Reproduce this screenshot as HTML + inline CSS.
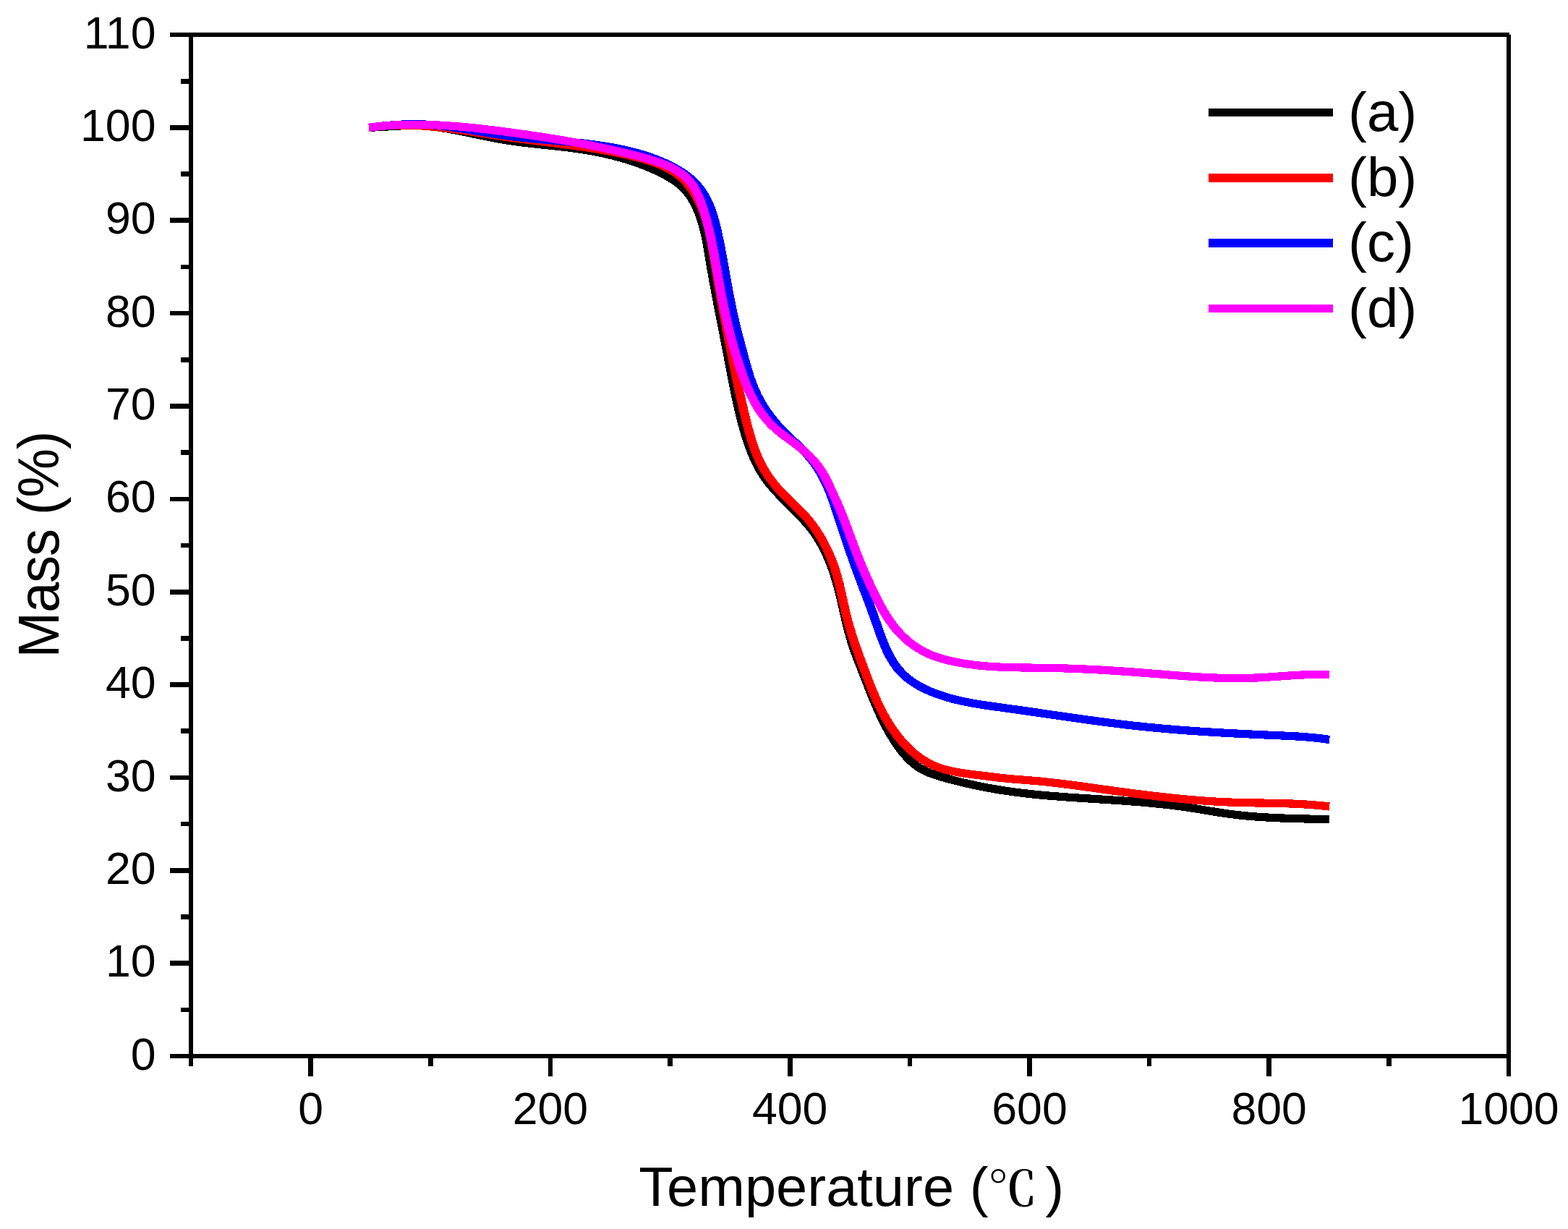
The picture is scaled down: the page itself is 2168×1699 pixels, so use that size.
<!DOCTYPE html>
<html lang="en"><head><meta charset="utf-8"><title>Mass (%) - Temperature (℃)</title>
<style>
html,body{margin:0;padding:0;background:#fff;}
body{width:2168px;height:1699px;overflow:hidden;}
svg{display:block;}
text{font-family:"Liberation Sans","Noto Serif CJK SC",sans-serif;fill:#000;}
.tk{font-size:62.6px;}
.ttl{font-size:76.2px;}
.lg{font-size:76.5px;}
.cjk{font-family:"Liberation Sans","Noto Serif CJK SC",serif;}
.ax{stroke:#000;stroke-width:6;fill:none;stroke-linecap:butt;}
.cv{fill:none;stroke-width:11.2;stroke-linejoin:round;stroke-linecap:butt;}
</style></head><body>
<svg width="2168" height="1699" viewBox="0 0 2168 1699">
<rect x="0" y="0" width="2168" height="1699" fill="#fff"/>
<g id="curves" transform="scale(1.12 1)" shape-rendering="crispEdges">
<path class="cv" stroke="#000000" d="M454.96 176.30h0.4C457.27 176.21 463.01 175.97 466.83 175.74C470.65 175.52 474.47 175.23 478.28 174.97C482.09 174.71 485.89 174.41 489.69 174.19C493.50 173.97 497.29 173.74 501.09 173.63C504.88 173.51 508.67 173.43 512.45 173.50C516.24 173.56 520.02 173.72 523.80 174.01C527.57 174.29 531.35 174.70 535.12 175.19C538.89 175.67 542.66 176.27 546.43 176.91C550.20 177.56 553.96 178.29 557.73 179.05C561.49 179.81 565.25 180.63 569.01 181.46C572.77 182.29 576.53 183.17 580.28 184.03C584.04 184.90 587.80 185.79 591.55 186.66C595.31 187.53 599.06 188.41 602.81 189.25C606.57 190.09 610.32 190.92 614.07 191.69C617.83 192.47 621.58 193.21 625.34 193.89C629.09 194.56 632.85 195.18 636.60 195.76C640.36 196.34 644.11 196.86 647.87 197.37C651.63 197.88 655.39 198.34 659.15 198.80C662.91 199.26 666.68 199.69 670.44 200.13C674.21 200.57 677.97 201.00 681.74 201.45C685.51 201.90 689.29 202.35 693.06 202.84C696.84 203.33 700.62 203.83 704.40 204.39C708.18 204.94 711.97 205.52 715.75 206.16C719.54 206.80 723.33 207.48 727.11 208.22C730.89 208.96 734.67 209.75 738.43 210.59C742.20 211.44 745.96 212.34 749.70 213.30C753.44 214.26 757.18 215.28 760.89 216.38C764.60 217.47 768.29 218.62 771.96 219.85C775.63 221.08 779.28 222.38 782.90 223.76C786.52 225.14 790.11 226.59 793.67 228.12C797.22 229.66 800.75 231.27 804.24 232.97C807.73 234.68 811.19 236.46 814.59 238.34C818.00 240.22 821.40 242.16 824.68 244.27C827.97 246.38 831.23 248.55 834.28 251.00C837.33 253.45 840.29 256.06 842.97 258.95C845.66 261.85 848.13 265.03 850.38 268.38C852.63 271.73 854.63 275.37 856.47 279.05C858.31 282.73 859.94 286.59 861.43 290.48C862.93 294.36 864.23 298.33 865.44 302.34C866.65 306.36 867.69 310.44 868.67 314.55C869.64 318.67 870.49 322.84 871.29 327.03C872.10 331.21 872.80 335.45 873.49 339.68C874.19 343.91 874.81 348.17 875.45 352.42C876.09 356.67 876.69 360.94 877.33 365.18C877.97 369.43 878.62 373.66 879.28 377.89C879.94 382.12 880.61 386.33 881.30 390.54C881.98 394.75 882.67 398.96 883.38 403.15C884.08 407.35 884.79 411.54 885.50 415.73C886.22 419.91 886.94 424.09 887.67 428.27C888.39 432.45 889.12 436.63 889.85 440.80C890.58 444.97 891.32 449.14 892.05 453.32C892.78 457.49 893.51 461.66 894.24 465.83C894.97 470.00 895.70 474.17 896.42 478.35C897.15 482.52 897.87 486.70 898.58 490.88C899.29 495.06 899.99 499.25 900.70 503.43C901.41 507.62 902.11 511.81 902.82 516.00C903.54 520.19 904.25 524.38 904.98 528.56C905.72 532.75 906.46 536.94 907.22 541.12C907.99 545.31 908.77 549.49 909.58 553.66C910.40 557.84 911.23 562.01 912.10 566.17C912.97 570.34 913.87 574.49 914.82 578.64C915.77 582.79 916.75 586.93 917.78 591.06C918.82 595.19 919.89 599.32 921.03 603.41C922.17 607.50 923.36 611.59 924.65 615.62C925.93 619.64 927.27 623.65 928.73 627.58C930.18 631.51 931.72 635.40 933.38 639.20C935.03 643.00 936.79 646.75 938.69 650.38C940.58 654.02 942.60 657.57 944.76 661.02C946.92 664.46 949.24 667.79 951.64 671.06C954.03 674.33 956.57 677.50 959.14 680.64C961.71 683.78 964.39 686.85 967.07 689.91C969.74 692.98 972.49 696.00 975.20 699.04C977.92 702.09 980.67 705.11 983.35 708.19C986.03 711.27 988.71 714.35 991.28 717.51C993.86 720.67 996.40 723.86 998.81 727.17C1001.21 730.47 1003.53 733.84 1005.71 737.32C1007.89 740.79 1009.94 744.38 1011.88 748.03C1013.82 751.68 1015.64 755.42 1017.37 759.22C1019.09 763.02 1020.70 766.89 1022.22 770.81C1023.75 774.73 1025.16 778.71 1026.50 782.71C1027.84 786.72 1029.08 790.78 1030.26 794.85C1031.43 798.92 1032.51 803.02 1033.54 807.13C1034.57 811.23 1035.52 815.36 1036.45 819.49C1037.37 823.62 1038.24 827.77 1039.10 831.91C1039.97 836.05 1040.79 840.20 1041.64 844.35C1042.49 848.50 1043.32 852.65 1044.19 856.78C1045.07 860.92 1045.95 865.06 1046.89 869.18C1047.84 873.30 1048.80 877.41 1049.86 881.51C1050.92 885.60 1052.04 889.68 1053.24 893.73C1054.45 897.79 1055.75 901.82 1057.08 905.84C1058.41 909.86 1059.82 913.86 1061.21 917.85C1062.60 921.84 1064.03 925.81 1065.42 929.78C1066.81 933.75 1068.18 937.70 1069.55 941.66C1070.93 945.61 1072.29 949.56 1073.68 953.51C1075.08 957.46 1076.47 961.41 1077.91 965.35C1079.36 969.29 1080.82 973.24 1082.34 977.15C1083.85 981.07 1085.40 984.98 1087.02 988.85C1088.64 992.72 1090.30 996.57 1092.04 1000.37C1093.79 1004.18 1095.58 1007.95 1097.47 1011.66C1099.36 1015.37 1101.32 1019.04 1103.38 1022.63C1105.44 1026.23 1107.58 1029.79 1109.84 1033.23C1112.10 1036.68 1114.44 1040.11 1116.93 1043.32C1119.42 1046.53 1122.02 1049.67 1124.79 1052.50C1127.56 1055.34 1130.46 1058.00 1133.54 1060.32C1136.63 1062.64 1139.91 1064.63 1143.29 1066.42C1146.66 1068.22 1150.23 1069.69 1153.81 1071.10C1157.39 1072.51 1161.09 1073.69 1164.77 1074.88C1168.44 1076.07 1172.16 1077.16 1175.86 1078.25C1179.56 1079.33 1183.27 1080.37 1186.99 1081.37C1190.70 1082.38 1194.42 1083.34 1198.15 1084.26C1201.87 1085.19 1205.60 1086.07 1209.34 1086.92C1213.07 1087.76 1216.81 1088.57 1220.56 1089.34C1224.30 1090.11 1228.05 1090.84 1231.80 1091.53C1235.56 1092.23 1239.32 1092.88 1243.08 1093.50C1246.85 1094.12 1250.61 1094.70 1254.39 1095.25C1258.16 1095.80 1261.94 1096.31 1265.72 1096.80C1269.50 1097.29 1273.28 1097.74 1277.07 1098.18C1280.85 1098.61 1284.64 1099.02 1288.43 1099.40C1292.23 1099.79 1296.02 1100.15 1299.82 1100.50C1303.61 1100.85 1307.41 1101.18 1311.21 1101.49C1315.01 1101.81 1318.81 1102.11 1322.61 1102.40C1326.41 1102.70 1330.22 1102.98 1334.02 1103.25C1337.82 1103.53 1341.62 1103.80 1345.43 1104.07C1349.23 1104.34 1353.03 1104.60 1356.83 1104.87C1360.63 1105.14 1364.43 1105.40 1368.23 1105.68C1372.03 1105.95 1375.83 1106.23 1379.62 1106.52C1383.42 1106.81 1387.21 1107.10 1391.00 1107.41C1394.79 1107.72 1398.58 1108.05 1402.37 1108.38C1406.16 1108.72 1409.94 1109.08 1413.73 1109.45C1417.51 1109.83 1421.29 1110.22 1425.07 1110.63C1428.85 1111.05 1432.63 1111.48 1436.41 1111.95C1440.19 1112.41 1443.97 1112.90 1447.75 1113.42C1451.52 1113.94 1455.30 1114.48 1459.08 1115.06C1462.85 1115.64 1466.63 1116.25 1470.40 1116.90C1474.18 1117.54 1477.95 1118.23 1481.73 1118.91C1485.50 1119.60 1489.28 1120.32 1493.06 1121.01C1496.83 1121.70 1500.61 1122.40 1504.38 1123.06C1508.16 1123.72 1511.94 1124.36 1515.72 1124.95C1519.49 1125.53 1523.27 1126.07 1527.05 1126.56C1530.83 1127.05 1534.62 1127.48 1538.40 1127.88C1542.18 1128.28 1545.97 1128.64 1549.75 1128.96C1553.54 1129.28 1557.33 1129.57 1561.11 1129.82C1564.90 1130.08 1568.70 1130.30 1572.49 1130.51C1576.28 1130.71 1580.08 1130.89 1583.88 1131.05C1587.68 1131.21 1591.48 1131.35 1595.28 1131.48C1599.09 1131.61 1602.89 1131.72 1606.70 1131.83C1610.51 1131.95 1614.32 1132.05 1618.14 1132.15C1621.95 1132.25 1625.77 1132.35 1629.60 1132.46C1633.42 1132.57 1639.16 1132.75 1641.07 1132.80h0.4"/>
<path class="cv" stroke="#ff0000" d="M454.96 176.31h0.4C457.26 176.04 462.95 175.12 466.75 174.67C470.54 174.22 474.34 173.87 478.13 173.61C481.92 173.34 485.71 173.17 489.50 173.07C493.29 172.97 497.08 172.96 500.87 173.02C504.66 173.07 508.44 173.20 512.23 173.39C516.01 173.58 519.80 173.84 523.58 174.14C527.36 174.45 531.14 174.81 534.92 175.22C538.70 175.62 542.48 176.08 546.25 176.57C550.03 177.06 553.81 177.60 557.58 178.15C561.35 178.71 565.13 179.30 568.90 179.90C572.67 180.51 576.44 181.14 580.21 181.78C583.98 182.41 587.74 183.07 591.51 183.72C595.27 184.37 599.04 185.04 602.80 185.69C606.56 186.34 610.33 186.99 614.09 187.63C617.85 188.26 621.60 188.88 625.36 189.48C629.12 190.08 632.87 190.65 636.63 191.22C640.38 191.78 644.14 192.32 647.89 192.85C651.64 193.39 655.39 193.91 659.14 194.43C662.89 194.94 666.64 195.45 670.39 195.96C674.14 196.47 677.89 196.98 681.64 197.50C685.38 198.01 689.13 198.53 692.88 199.06C696.63 199.59 700.37 200.13 704.12 200.69C707.87 201.25 711.61 201.81 715.36 202.41C719.11 203.00 722.86 203.61 726.60 204.26C730.35 204.90 734.10 205.56 737.85 206.26C741.60 206.96 745.35 207.69 749.10 208.46C752.85 209.23 756.60 210.03 760.35 210.88C764.10 211.73 767.86 212.62 771.61 213.56C775.36 214.50 779.12 215.48 782.88 216.53C786.63 217.57 790.41 218.64 794.14 219.83C797.87 221.01 801.61 222.24 805.25 223.63C808.90 225.02 812.52 226.50 816.01 228.17C819.50 229.85 822.93 231.65 826.19 233.69C829.45 235.73 832.62 237.94 835.59 240.42C838.56 242.89 841.37 245.63 844.01 248.55C846.65 251.48 849.11 254.68 851.41 257.99C853.71 261.31 855.85 264.85 857.83 268.47C859.81 272.08 861.63 275.87 863.31 279.70C864.98 283.53 866.49 287.48 867.87 291.44C869.26 295.41 870.48 299.43 871.61 303.49C872.75 307.55 873.74 311.65 874.67 315.78C875.60 319.90 876.42 324.07 877.19 328.25C877.97 332.42 878.66 336.63 879.34 340.84C880.01 345.05 880.62 349.28 881.25 353.51C881.87 357.73 882.46 361.97 883.08 366.19C883.70 370.41 884.32 374.63 884.94 378.84C885.57 383.06 886.21 387.26 886.85 391.47C887.49 395.67 888.14 399.87 888.79 404.07C889.45 408.26 890.11 412.45 890.78 416.64C891.45 420.83 892.13 425.02 892.81 429.20C893.49 433.38 894.18 437.56 894.87 441.73C895.57 445.91 896.27 450.08 896.98 454.25C897.68 458.42 898.40 462.59 899.12 466.76C899.84 470.92 900.56 475.09 901.30 479.25C902.03 483.41 902.77 487.57 903.51 491.73C904.25 495.89 905.00 500.05 905.76 504.21C906.52 508.37 907.28 512.52 908.06 516.68C908.83 520.84 909.62 524.99 910.41 529.15C911.21 533.30 912.01 537.46 912.83 541.62C913.65 545.77 914.48 549.93 915.33 554.09C916.18 558.24 917.04 562.40 917.91 566.56C918.79 570.72 919.68 574.88 920.60 579.04C921.52 583.19 922.44 587.36 923.43 591.49C924.42 595.63 925.43 599.76 926.53 603.85C927.62 607.93 928.76 612.00 930.01 616.01C931.26 620.02 932.57 624.00 934.01 627.90C935.45 631.81 936.97 635.67 938.64 639.44C940.32 643.21 942.11 646.92 944.04 650.53C945.98 654.14 948.06 657.67 950.25 661.11C952.45 664.54 954.78 667.89 957.19 671.14C959.61 674.39 962.15 677.53 964.74 680.61C967.33 683.68 970.04 686.63 972.73 689.60C975.42 692.56 978.18 695.44 980.89 698.40C983.59 701.35 986.32 704.28 988.94 707.32C991.56 710.37 994.16 713.46 996.62 716.68C999.08 719.91 1001.45 723.26 1003.71 726.69C1005.97 730.13 1008.12 733.68 1010.18 737.31C1012.23 740.93 1014.18 744.65 1016.03 748.42C1017.87 752.19 1019.62 756.04 1021.26 759.93C1022.90 763.82 1024.44 767.78 1025.88 771.76C1027.31 775.73 1028.65 779.76 1029.88 783.79C1031.11 787.82 1032.23 791.88 1033.28 795.93C1034.32 799.99 1035.26 804.06 1036.17 808.14C1037.08 812.21 1037.90 816.30 1038.74 820.39C1039.57 824.47 1040.35 828.57 1041.18 832.66C1042.00 836.76 1042.80 840.86 1043.67 844.96C1044.55 849.06 1045.44 853.16 1046.42 857.26C1047.39 861.35 1048.43 865.45 1049.52 869.54C1050.61 873.64 1051.77 877.73 1052.95 881.81C1054.14 885.89 1055.37 889.96 1056.63 894.03C1057.89 898.10 1059.19 902.15 1060.50 906.20C1061.81 910.25 1063.15 914.28 1064.49 918.30C1065.83 922.33 1067.18 926.34 1068.54 930.33C1069.89 934.32 1071.23 938.30 1072.61 942.26C1073.98 946.21 1075.36 950.15 1076.79 954.06C1078.22 957.97 1079.67 961.87 1081.19 965.72C1082.72 969.58 1084.28 973.41 1085.93 977.21C1087.59 981.00 1089.30 984.77 1091.12 988.49C1092.94 992.21 1094.85 995.91 1096.86 999.54C1098.88 1003.17 1101.00 1006.78 1103.22 1010.28C1105.45 1013.78 1107.77 1017.23 1110.20 1020.55C1112.63 1023.86 1115.16 1027.10 1117.79 1030.17C1120.42 1033.25 1123.16 1036.22 1125.99 1039.00C1128.82 1041.78 1131.75 1044.43 1134.78 1046.86C1137.82 1049.29 1140.95 1051.55 1144.18 1053.58C1147.41 1055.61 1150.74 1057.42 1154.16 1059.01C1157.57 1060.60 1161.10 1061.93 1164.68 1063.14C1168.26 1064.34 1171.93 1065.32 1175.64 1066.21C1179.34 1067.11 1183.12 1067.83 1186.91 1068.51C1190.70 1069.19 1194.55 1069.75 1198.39 1070.31C1202.23 1070.87 1206.10 1071.35 1209.95 1071.87C1213.80 1072.40 1217.66 1072.93 1221.49 1073.46C1225.33 1073.98 1229.15 1074.54 1232.97 1075.03C1236.79 1075.52 1240.60 1075.99 1244.40 1076.40C1248.20 1076.81 1251.99 1077.15 1255.77 1077.49C1259.56 1077.83 1263.33 1078.13 1267.11 1078.46C1270.88 1078.80 1274.64 1079.13 1278.41 1079.51C1282.17 1079.88 1285.92 1080.30 1289.68 1080.73C1293.43 1081.16 1297.18 1081.63 1300.93 1082.11C1304.68 1082.59 1308.42 1083.10 1312.16 1083.62C1315.91 1084.15 1319.65 1084.69 1323.39 1085.24C1327.14 1085.79 1330.88 1086.36 1334.62 1086.93C1338.36 1087.50 1342.11 1088.08 1345.85 1088.67C1349.60 1089.25 1353.35 1089.84 1357.10 1090.42C1360.85 1091.00 1364.60 1091.59 1368.36 1092.17C1372.12 1092.75 1375.88 1093.32 1379.64 1093.89C1383.40 1094.46 1387.17 1095.03 1390.94 1095.59C1394.71 1096.15 1398.48 1096.70 1402.25 1097.24C1406.02 1097.78 1409.80 1098.32 1413.57 1098.84C1417.35 1099.36 1421.13 1099.88 1424.91 1100.37C1428.69 1100.87 1432.48 1101.36 1436.26 1101.83C1440.05 1102.30 1443.83 1102.76 1447.62 1103.20C1451.41 1103.64 1455.20 1104.06 1458.99 1104.47C1462.78 1104.87 1466.57 1105.26 1470.36 1105.63C1474.16 1105.99 1477.95 1106.34 1481.74 1106.66C1485.54 1106.99 1489.33 1107.29 1493.13 1107.57C1496.93 1107.84 1500.72 1108.10 1504.52 1108.32C1508.32 1108.55 1512.12 1108.75 1515.92 1108.93C1519.71 1109.10 1523.51 1109.24 1527.31 1109.37C1531.11 1109.50 1534.91 1109.59 1538.70 1109.68C1542.50 1109.78 1546.30 1109.85 1550.10 1109.92C1553.90 1109.99 1557.69 1110.06 1561.49 1110.13C1565.29 1110.20 1569.08 1110.27 1572.88 1110.36C1576.67 1110.45 1580.47 1110.54 1584.26 1110.66C1588.06 1110.78 1591.85 1110.92 1595.64 1111.09C1599.43 1111.26 1603.22 1111.45 1607.01 1111.68C1610.80 1111.92 1614.59 1112.18 1618.37 1112.50C1622.16 1112.82 1625.94 1113.17 1629.73 1113.59C1633.51 1114.01 1639.18 1114.76 1641.07 1115.00h0.4"/>
<path class="cv" stroke="#0000ff" d="M454.96 176.30h0.4C457.19 176.06 462.71 175.29 466.37 174.83C470.03 174.38 473.69 173.95 477.33 173.58C480.97 173.20 484.61 172.86 488.23 172.59C491.86 172.32 495.47 172.09 499.08 171.94C502.69 171.79 506.29 171.69 509.89 171.68C513.48 171.67 517.07 171.73 520.65 171.87C524.24 172.01 527.82 172.25 531.39 172.53C534.97 172.82 538.54 173.19 542.11 173.60C545.68 174.01 549.25 174.49 552.82 175.00C556.39 175.51 559.95 176.08 563.52 176.67C567.09 177.25 570.66 177.88 574.23 178.51C577.80 179.15 581.37 179.82 584.94 180.48C588.51 181.14 592.09 181.82 595.67 182.48C599.25 183.14 602.84 183.81 606.43 184.45C610.02 185.09 613.62 185.72 617.22 186.31C620.83 186.90 624.44 187.47 628.06 188.00C631.68 188.52 635.30 189.01 638.93 189.47C642.57 189.94 646.20 190.36 649.84 190.78C653.49 191.19 657.13 191.58 660.78 191.96C664.42 192.34 668.08 192.70 671.72 193.06C675.37 193.42 679.03 193.76 682.67 194.12C686.32 194.48 689.97 194.83 693.62 195.19C697.26 195.56 700.90 195.93 704.54 196.32C708.18 196.71 711.81 197.11 715.44 197.55C719.06 197.98 722.69 198.43 726.30 198.92C729.91 199.41 733.51 199.92 737.11 200.48C740.70 201.04 744.29 201.63 747.86 202.28C751.43 202.92 755.00 203.61 758.55 204.35C762.09 205.10 765.63 205.89 769.15 206.75C772.67 207.62 776.18 208.53 779.67 209.53C783.16 210.52 786.63 211.57 790.09 212.71C793.54 213.85 796.98 215.06 800.39 216.36C803.81 217.66 807.21 219.04 810.58 220.52C813.96 221.99 817.32 223.55 820.64 225.22C823.96 226.89 827.28 228.65 830.50 230.55C833.73 232.46 836.92 234.46 839.99 236.65C843.05 238.83 846.05 241.15 848.89 243.66C851.72 246.17 854.46 248.86 857.00 251.72C859.54 254.58 861.94 257.62 864.12 260.80C866.29 263.99 868.26 267.35 870.06 270.81C871.86 274.28 873.43 277.90 874.89 281.60C876.35 285.29 877.63 289.12 878.83 292.98C880.03 296.85 881.08 300.81 882.07 304.79C883.07 308.77 883.95 312.81 884.80 316.84C885.65 320.87 886.42 324.93 887.18 328.96C887.94 332.98 888.66 337.00 889.36 341.01C890.07 345.01 890.74 349.00 891.40 352.99C892.07 356.97 892.71 360.94 893.35 364.91C893.99 368.88 894.62 372.84 895.25 376.80C895.88 380.76 896.50 384.72 897.13 388.67C897.77 392.63 898.40 396.58 899.06 400.54C899.71 404.49 900.37 408.45 901.06 412.41C901.75 416.38 902.46 420.34 903.19 424.32C903.93 428.29 904.69 432.27 905.49 436.26C906.30 440.25 907.13 444.26 908.00 448.26C908.86 452.26 909.76 456.28 910.67 460.28C911.58 464.28 912.51 468.29 913.45 472.29C914.39 476.28 915.35 480.27 916.30 484.23C917.26 488.20 918.21 492.16 919.17 496.09C920.13 500.02 921.07 503.93 922.07 507.80C923.08 511.68 924.09 515.54 925.20 519.35C926.31 523.16 927.46 526.94 928.74 530.67C930.02 534.41 931.38 538.10 932.88 541.74C934.37 545.39 935.99 548.98 937.72 552.52C939.45 556.06 941.29 559.54 943.24 562.96C945.18 566.38 947.23 569.74 949.38 573.03C951.52 576.31 953.77 579.54 956.10 582.68C958.43 585.82 960.86 588.89 963.35 591.87C965.84 594.86 968.45 597.74 971.06 600.61C973.68 603.47 976.38 606.24 979.03 609.05C981.68 611.86 984.37 614.63 986.97 617.47C989.57 620.32 992.17 623.16 994.62 626.12C997.08 629.09 999.47 632.11 1001.72 635.25C1003.96 638.40 1006.10 641.65 1008.11 644.98C1010.12 648.31 1012.02 651.74 1013.81 655.23C1015.59 658.73 1017.25 662.31 1018.82 665.95C1020.40 669.58 1021.84 673.30 1023.24 677.04C1024.64 680.79 1025.93 684.60 1027.20 688.42C1028.46 692.25 1029.65 696.12 1030.83 699.99C1032.02 703.86 1033.14 707.77 1034.29 711.66C1035.43 715.55 1036.55 719.45 1037.69 723.34C1038.83 727.22 1039.97 731.11 1041.11 734.98C1042.25 738.85 1043.40 742.72 1044.55 746.58C1045.71 750.44 1046.87 754.29 1048.04 758.13C1049.21 761.97 1050.39 765.80 1051.58 769.61C1052.77 773.43 1053.98 777.24 1055.19 781.03C1056.41 784.82 1057.64 788.59 1058.89 792.36C1060.13 796.12 1061.40 799.87 1062.66 803.62C1063.93 807.37 1065.21 811.11 1066.49 814.86C1067.77 818.61 1069.05 822.36 1070.33 826.13C1071.60 829.90 1072.88 833.68 1074.15 837.48C1075.41 841.29 1076.68 845.10 1077.92 848.96C1079.16 852.82 1080.38 856.71 1081.60 860.61C1082.83 864.52 1084.03 868.47 1085.28 872.38C1086.53 876.29 1087.78 880.22 1089.12 884.07C1090.45 887.92 1091.82 891.76 1093.30 895.49C1094.79 899.22 1096.33 902.90 1098.03 906.45C1099.72 909.99 1101.50 913.46 1103.47 916.75C1105.43 920.04 1107.52 923.22 1109.81 926.20C1112.10 929.18 1114.58 931.99 1117.22 934.63C1119.86 937.27 1122.70 939.71 1125.64 942.01C1128.59 944.31 1131.70 946.44 1134.89 948.43C1138.07 950.43 1141.39 952.26 1144.76 953.98C1148.12 955.69 1151.59 957.26 1155.07 958.73C1158.54 960.19 1162.09 961.52 1165.62 962.76C1169.15 964.00 1172.70 965.12 1176.24 966.17C1179.79 967.22 1183.33 968.16 1186.88 969.04C1190.43 969.93 1193.98 970.72 1197.54 971.48C1201.09 972.23 1204.65 972.91 1208.21 973.57C1211.77 974.23 1215.33 974.82 1218.89 975.41C1222.45 976.00 1226.02 976.55 1229.59 977.10C1233.16 977.66 1236.73 978.19 1240.30 978.74C1243.87 979.29 1247.44 979.84 1251.02 980.40C1254.60 980.96 1258.18 981.52 1261.76 982.09C1265.34 982.66 1268.92 983.24 1272.50 983.82C1276.09 984.40 1279.67 984.98 1283.26 985.56C1286.85 986.15 1290.44 986.73 1294.03 987.32C1297.62 987.90 1301.21 988.49 1304.81 989.07C1308.40 989.66 1312.00 990.24 1315.60 990.82C1319.19 991.40 1322.79 991.98 1326.39 992.55C1329.99 993.13 1333.60 993.70 1337.20 994.26C1340.80 994.82 1344.41 995.38 1348.01 995.93C1351.62 996.48 1355.22 997.03 1358.83 997.56C1362.44 998.10 1366.05 998.63 1369.66 999.14C1373.27 999.66 1376.88 1000.17 1380.49 1000.66C1384.11 1001.16 1387.72 1001.64 1391.33 1002.11C1394.95 1002.58 1398.56 1003.04 1402.18 1003.48C1405.80 1003.92 1409.41 1004.35 1413.03 1004.77C1416.65 1005.18 1420.27 1005.58 1423.88 1005.97C1427.50 1006.36 1431.12 1006.73 1434.74 1007.09C1438.36 1007.45 1441.98 1007.80 1445.60 1008.14C1449.23 1008.48 1452.85 1008.80 1456.47 1009.12C1460.09 1009.43 1463.71 1009.74 1467.33 1010.03C1470.96 1010.33 1474.58 1010.61 1478.20 1010.88C1481.83 1011.16 1485.45 1011.42 1489.07 1011.68C1492.70 1011.94 1496.32 1012.19 1499.94 1012.43C1503.56 1012.67 1507.19 1012.90 1510.81 1013.13C1514.43 1013.35 1518.06 1013.57 1521.68 1013.79C1525.30 1014.00 1528.93 1014.21 1532.55 1014.41C1536.17 1014.61 1539.79 1014.80 1543.42 1015.00C1547.04 1015.19 1550.66 1015.37 1554.28 1015.56C1557.90 1015.74 1561.52 1015.92 1565.14 1016.10C1568.76 1016.27 1572.38 1016.44 1576.00 1016.62C1579.62 1016.80 1583.24 1016.96 1586.86 1017.15C1590.48 1017.34 1594.09 1017.53 1597.71 1017.77C1601.33 1018.00 1604.94 1018.24 1608.56 1018.53C1612.17 1018.83 1615.79 1019.15 1619.40 1019.53C1623.01 1019.91 1626.63 1020.34 1630.24 1020.83C1633.85 1021.33 1639.27 1022.23 1641.07 1022.51h0.4"/>
<path class="cv" stroke="#ff00ff" d="M454.96 176.31h0.4C457.12 176.07 462.40 175.31 465.93 174.89C469.45 174.47 472.98 174.11 476.51 173.79C480.03 173.47 483.56 173.21 487.08 172.99C490.61 172.78 494.13 172.61 497.66 172.48C501.18 172.36 504.71 172.28 508.23 172.24C511.76 172.20 515.28 172.21 518.81 172.25C522.33 172.29 525.85 172.38 529.38 172.50C532.90 172.61 536.42 172.77 539.95 172.95C543.47 173.14 546.99 173.36 550.51 173.60C554.03 173.85 557.55 174.13 561.07 174.44C564.59 174.74 568.11 175.07 571.62 175.43C575.14 175.78 578.66 176.16 582.17 176.56C585.69 176.96 589.20 177.38 592.71 177.82C596.23 178.25 599.74 178.71 603.25 179.18C606.76 179.65 610.26 180.13 613.77 180.63C617.28 181.12 620.78 181.63 624.29 182.15C627.79 182.66 631.29 183.19 634.79 183.72C638.29 184.26 641.79 184.80 645.29 185.35C648.78 185.90 652.28 186.47 655.77 187.04C659.26 187.61 662.75 188.20 666.24 188.79C669.73 189.39 673.22 190.00 676.70 190.62C680.19 191.24 683.67 191.87 687.15 192.52C690.63 193.16 694.10 193.82 697.58 194.50C701.05 195.17 704.53 195.86 708.00 196.56C711.47 197.27 714.94 197.98 718.40 198.72C721.87 199.45 725.33 200.20 728.79 200.97C732.25 201.74 735.71 202.52 739.16 203.33C742.62 204.13 746.07 204.95 749.52 205.79C752.97 206.62 756.41 207.48 759.86 208.36C763.30 209.23 766.74 210.13 770.18 211.04C773.61 211.96 777.05 212.89 780.48 213.85C783.91 214.81 787.34 215.77 790.76 216.79C794.18 217.81 797.60 218.84 801.00 219.97C804.40 221.10 807.79 222.27 811.14 223.58C814.50 224.88 817.86 226.26 821.14 227.82C824.43 229.37 827.72 231.02 830.85 232.89C833.98 234.76 837.07 236.76 839.92 239.02C842.77 241.27 845.50 243.71 847.95 246.42C850.40 249.13 852.61 252.12 854.61 255.29C856.60 258.45 858.32 261.91 859.92 265.44C861.52 268.96 862.89 272.70 864.20 276.43C865.51 280.15 866.66 284.00 867.79 287.80C868.91 291.60 869.94 295.41 870.93 299.22C871.92 303.02 872.84 306.83 873.72 310.63C874.59 314.44 875.41 318.25 876.20 322.06C876.99 325.87 877.73 329.68 878.44 333.50C879.16 337.31 879.83 341.13 880.49 344.96C881.15 348.78 881.78 352.61 882.40 356.45C883.03 360.29 883.63 364.13 884.23 367.98C884.84 371.83 885.43 375.69 886.03 379.56C886.64 383.42 887.24 387.30 887.86 391.18C888.49 395.07 889.12 398.97 889.78 402.87C890.43 406.78 891.11 410.70 891.81 414.62C892.51 418.54 893.23 422.47 893.98 426.40C894.72 430.33 895.49 434.26 896.28 438.19C897.07 442.11 897.89 446.04 898.73 449.95C899.58 453.87 900.44 457.78 901.34 461.68C902.23 465.57 903.15 469.46 904.10 473.33C905.05 477.19 906.02 481.05 907.03 484.87C908.03 488.70 909.06 492.52 910.13 496.30C911.19 500.08 912.28 503.84 913.41 507.57C914.53 511.30 915.68 515.00 916.87 518.66C918.06 522.32 919.27 525.96 920.54 529.55C921.82 533.14 923.12 536.69 924.52 540.20C925.93 543.71 927.38 547.17 928.95 550.59C930.53 554.01 932.18 557.38 933.97 560.70C935.76 564.02 937.66 567.29 939.71 570.50C941.77 573.70 943.98 576.89 946.31 579.94C948.64 583.00 951.14 586.02 953.70 588.82C956.27 591.63 958.96 594.26 961.68 596.78C964.40 599.29 967.22 601.57 970.02 603.91C972.83 606.25 975.69 608.45 978.51 610.82C981.32 613.18 984.16 615.57 986.91 618.10C989.66 620.63 992.40 623.25 995.01 625.97C997.63 628.70 1000.19 631.52 1002.59 634.44C1005.00 637.36 1007.31 640.38 1009.43 643.49C1011.55 646.61 1013.50 649.83 1015.31 653.13C1017.12 656.43 1018.72 659.84 1020.30 663.29C1021.89 666.75 1023.33 670.29 1024.83 673.86C1026.33 677.43 1027.82 681.07 1029.31 684.71C1030.79 688.35 1032.30 692.04 1033.74 695.72C1035.18 699.39 1036.57 703.08 1037.92 706.77C1039.27 710.46 1040.57 714.15 1041.85 717.84C1043.13 721.52 1044.37 725.22 1045.60 728.90C1046.84 732.59 1048.05 736.28 1049.26 739.97C1050.48 743.65 1051.68 747.34 1052.90 751.02C1054.12 754.69 1055.34 758.37 1056.60 762.04C1057.85 765.71 1059.12 769.37 1060.43 773.03C1061.74 776.69 1063.08 780.34 1064.46 783.98C1065.83 787.62 1067.23 791.26 1068.66 794.88C1070.09 798.50 1071.55 802.12 1073.04 805.72C1074.52 809.32 1076.03 812.91 1077.57 816.49C1079.11 820.06 1080.66 823.63 1082.26 827.17C1083.87 830.70 1085.49 834.23 1087.19 837.69C1088.89 841.15 1090.63 844.59 1092.46 847.95C1094.29 851.31 1096.17 854.63 1098.17 857.86C1100.17 861.08 1102.24 864.25 1104.44 867.30C1106.63 870.36 1108.92 873.34 1111.36 876.20C1113.79 879.05 1116.36 881.82 1119.05 884.43C1121.74 887.05 1124.58 889.56 1127.50 891.90C1130.43 894.23 1133.48 896.44 1136.59 898.44C1139.70 900.45 1142.92 902.30 1146.17 903.93C1149.42 905.56 1152.75 906.96 1156.08 908.23C1159.42 909.51 1162.81 910.58 1166.20 911.60C1169.58 912.62 1172.98 913.52 1176.39 914.36C1179.79 915.20 1183.21 915.95 1186.64 916.63C1190.06 917.31 1193.50 917.91 1196.94 918.45C1200.38 918.99 1203.84 919.46 1207.30 919.87C1210.76 920.29 1214.22 920.64 1217.70 920.96C1221.17 921.27 1224.66 921.52 1228.15 921.75C1231.63 921.97 1235.13 922.15 1238.63 922.31C1242.13 922.46 1245.64 922.57 1249.16 922.68C1252.67 922.78 1256.19 922.85 1259.71 922.91C1263.23 922.98 1266.76 923.02 1270.29 923.07C1273.83 923.12 1277.36 923.15 1280.90 923.20C1284.44 923.25 1287.99 923.29 1291.53 923.36C1295.08 923.42 1298.63 923.49 1302.18 923.58C1305.73 923.67 1309.28 923.78 1312.84 923.89C1316.39 924.01 1319.95 924.14 1323.51 924.29C1327.07 924.43 1330.63 924.59 1334.18 924.76C1337.74 924.93 1341.30 925.11 1344.86 925.31C1348.42 925.50 1351.98 925.71 1355.54 925.92C1359.10 926.14 1362.66 926.37 1366.21 926.61C1369.77 926.84 1373.32 927.09 1376.88 927.35C1380.43 927.61 1383.98 927.87 1387.53 928.15C1391.07 928.43 1394.62 928.71 1398.16 929.01C1401.70 929.30 1405.24 929.60 1408.77 929.91C1412.31 930.22 1415.84 930.53 1419.37 930.85C1422.89 931.17 1426.42 931.49 1429.94 931.81C1433.46 932.13 1436.98 932.45 1440.50 932.76C1444.01 933.07 1447.53 933.38 1451.04 933.68C1454.55 933.98 1458.06 934.28 1461.57 934.56C1465.08 934.84 1468.59 935.11 1472.09 935.37C1475.60 935.62 1479.10 935.86 1482.61 936.08C1486.11 936.30 1489.61 936.51 1493.12 936.68C1496.62 936.86 1500.12 937.02 1503.62 937.15C1507.13 937.28 1510.63 937.39 1514.13 937.46C1517.63 937.54 1521.14 937.58 1524.64 937.59C1528.15 937.61 1531.65 937.59 1535.16 937.53C1538.66 937.47 1542.17 937.38 1545.68 937.24C1549.19 937.11 1552.70 936.92 1556.21 936.72C1559.72 936.51 1563.24 936.26 1566.75 936.00C1570.27 935.74 1573.79 935.45 1577.31 935.18C1580.83 934.90 1584.36 934.60 1587.88 934.33C1591.41 934.06 1594.94 933.79 1598.48 933.55C1602.01 933.32 1605.55 933.10 1609.09 932.93C1612.63 932.76 1616.18 932.61 1619.73 932.53C1623.28 932.46 1626.84 932.42 1630.39 932.47C1633.95 932.51 1639.29 932.75 1641.07 932.80h0.4"/>
</g>
<g id="axes" shape-rendering="crispEdges">
<path class="ax" d="M264.0 45.0V1474.0"/>
<path class="ax" d="M2086.0 48.0V1488.0"/>
<path class="ax" d="M235.0 48.0H2087.0"/>
<path class="ax" d="M235.0 1460.0H2089.0"/>
<rect x="250" y="1393" width="14" height="6" fill="#000"/>
<rect x="235" y="1328" width="29" height="7" fill="#000"/>
<rect x="250" y="1264" width="14" height="7" fill="#000"/>
<rect x="235" y="1200" width="29" height="7" fill="#000"/>
<rect x="250" y="1136" width="14" height="6" fill="#000"/>
<rect x="235" y="1072" width="29" height="6" fill="#000"/>
<rect x="250" y="1007" width="14" height="7" fill="#000"/>
<rect x="235" y="943" width="29" height="7" fill="#000"/>
<rect x="250" y="879" width="14" height="7" fill="#000"/>
<rect x="235" y="815" width="29" height="7" fill="#000"/>
<rect x="250" y="751" width="14" height="6" fill="#000"/>
<rect x="235" y="687" width="29" height="6" fill="#000"/>
<rect x="250" y="622" width="14" height="7" fill="#000"/>
<rect x="235" y="558" width="29" height="7" fill="#000"/>
<rect x="250" y="494" width="14" height="7" fill="#000"/>
<rect x="235" y="430" width="29" height="6" fill="#000"/>
<rect x="250" y="366" width="14" height="6" fill="#000"/>
<rect x="235" y="301" width="29" height="7" fill="#000"/>
<rect x="250" y="237" width="14" height="7" fill="#000"/>
<rect x="235" y="173" width="29" height="7" fill="#000"/>
<rect x="250" y="109" width="14" height="7" fill="#000"/>
<rect x="426" y="1460" width="7" height="28" fill="#000"/>
<rect x="592" y="1460" width="7" height="14" fill="#000"/>
<rect x="758" y="1460" width="6" height="28" fill="#000"/>
<rect x="923" y="1460" width="7" height="14" fill="#000"/>
<rect x="1089" y="1460" width="7" height="28" fill="#000"/>
<rect x="1255" y="1460" width="6" height="14" fill="#000"/>
<rect x="1420" y="1460" width="7" height="28" fill="#000"/>
<rect x="1586" y="1460" width="6" height="14" fill="#000"/>
<rect x="1751" y="1460" width="7" height="28" fill="#000"/>
<rect x="1917" y="1460" width="7" height="14" fill="#000"/>
</g>
<g id="ticklabels" class="tk">
<text transform="translate(215.5 1478.6) scale(1.0 1)" text-anchor="end">0</text>
<text transform="translate(215.5 1350.2) scale(1.0 1)" text-anchor="end">10</text>
<text transform="translate(215.5 1221.9) scale(1.0 1)" text-anchor="end">20</text>
<text transform="translate(215.5 1093.5) scale(1.0 1)" text-anchor="end">30</text>
<text transform="translate(215.5 965.1) scale(1.0 1)" text-anchor="end">40</text>
<text transform="translate(215.5 836.8) scale(1.0 1)" text-anchor="end">50</text>
<text transform="translate(215.5 708.4) scale(1.0 1)" text-anchor="end">60</text>
<text transform="translate(215.5 580.1) scale(1.0 1)" text-anchor="end">70</text>
<text transform="translate(215.5 451.7) scale(1.0 1)" text-anchor="end">80</text>
<text transform="translate(215.5 323.3) scale(1.0 1)" text-anchor="end">90</text>
<text transform="translate(215.5 195.0) scale(1.0 1)" text-anchor="end">100</text>
<text transform="translate(215.5 66.6) scale(1.0 1)" text-anchor="end">110</text>
<text transform="translate(429.6 1553.5) scale(1.0 1)" text-anchor="middle">0</text>
<text transform="translate(760.9 1553.5) scale(1.0 1)" text-anchor="middle">200</text>
<text transform="translate(1092.2 1553.5) scale(1.0 1)" text-anchor="middle">400</text>
<text transform="translate(1423.5 1553.5) scale(1.0 1)" text-anchor="middle">600</text>
<text transform="translate(1754.7 1553.5) scale(1.0 1)" text-anchor="middle">800</text>
<text transform="translate(2086.0 1553.5) scale(1.0 1)" text-anchor="middle">1000</text>
</g>
<g id="titles" class="ttl">
<text transform="translate(0 1667.0) scale(1.019 1)" xml:space="preserve"><tspan x="866.83">Temperature (</tspan><tspan class="cjk" x="1340.53" dy="0" font-size="66.5" font-weight="600">℃</tspan><tspan x="1418.35" dy="0">)</tspan></text>
<text transform="translate(80.7 753.2) scale(1.04 1) rotate(-90)" text-anchor="middle" letter-spacing="-1.15">Mass (%)</text>
</g>
<g id="legend">
<rect x="1671.0" y="150.0" width="172.0" height="11.0" fill="#000000" shape-rendering="crispEdges"/>
<text class="lg" transform="translate(1864.0 181.0) scale(1.02 1)">(a)</text>
<rect x="1671.0" y="240.0" width="172.0" height="12.0" fill="#ff0000" shape-rendering="crispEdges"/>
<text class="lg" transform="translate(1864.0 271.2) scale(1.02 1)">(b)</text>
<rect x="1671.0" y="330.0" width="172.0" height="12.0" fill="#0000ff" shape-rendering="crispEdges"/>
<text class="lg" transform="translate(1864.0 361.4) scale(1.02 1)">(c)</text>
<rect x="1671.0" y="421.0" width="172.0" height="11.0" fill="#ff00ff" shape-rendering="crispEdges"/>
<text class="lg" transform="translate(1864.0 451.6) scale(1.02 1)">(d)</text>
</g>
</svg>
</body></html>
